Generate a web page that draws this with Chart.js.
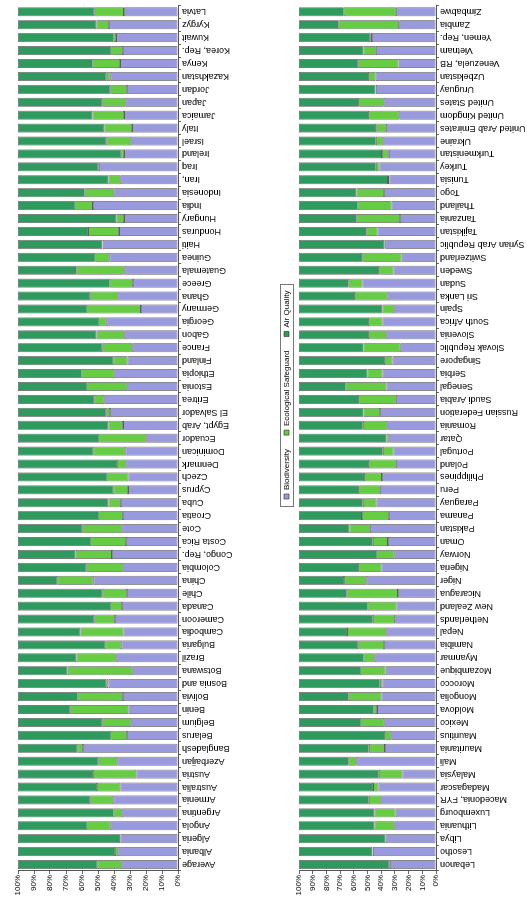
<!DOCTYPE html>
<html><head><meta charset="utf-8">
<script src="https://cdn.jsdelivr.net/npm/chart.js@4/dist/chart.umd.min.js"></script>
<style>
html,body{margin:0;padding:0;background:#fff;overflow:hidden;width:527px;height:898px;}
#rot{position:absolute;left:0;top:0;width:898px;height:527px;transform-origin:0 0;transform:translateY(898px) rotate(-90deg);}
#c1{position:absolute;left:0;top:0;}
#c2{position:absolute;left:0;top:270px;}
</style></head><body>
<div id="rot"><canvas id="c1" width="898" height="270"></canvas><canvas id="c2" width="898" height="257"></canvas></div>
<script>
const seriesNames = ['Biodiversity', 'Ecological Safeguard', 'Air Quality'];
const seriesColors = ['#9999dd', '#66cc44', '#2e9a5e'];
const tickLabels = ['0%','10%','20%','30%','40%','50%','60%','70%','80%','90%','100%'];

const countriesA = ['Average','Albania','Algeria','Angola','Argentina','Armenia','Australia','Austria','Azerbaijan','Bangladesh','Belarus','Belgium','Benin','Bolivia','Bosnia and','Botswana','Brazil','Bulgaria','Cambodia','Cameroon','Canada','Chile','China','Colombia','Congo, Rep.','Costa Rica','Cote','Croatia','Cuba','Cyprus','Czech','Denmark','Dominican','Ecuador','Egypt, Arab','El Salvador','Eritrea','Estonia','Ethiopia','Finland','France','Gabon','Georgia','Germany','Ghana','Greece','Guatemala','Guinea','Haiti','Honduras','Hungary','India','Indonesia','Iran,','Iraq','Ireland','Israel','Italy','Jamaica','Japan','Jordan','Kazakhstan','Kenya','Korea, Rep.','Kuwait','Kyrgyz','Latvia'];
const airA = [49.6,60.6,63.8,43.3,59.8,45.2,49.4,46.9,50.2,37.1,58.3,52.7,32.7,37.3,55.2,31.0,36.5,54.6,39.0,47.7,58.3,52.9,24.6,42.7,36.0,45.8,40.2,50.8,56.5,59.6,55.8,61.9,47.1,50.8,56.5,55.2,47.9,43.3,39.8,59.6,52.7,49.0,50.8,43.3,45.2,57.3,36.7,48.3,52.7,43.8,61.5,35.8,41.7,56.5,50.4,64.6,55.4,54.0,46.5,52.7,57.7,55.2,46.7,58.3,59.8,49.0,47.7];
const ecoA = [15.2,1.7,0.2,14.6,5.0,14.4,14.6,27.1,11.9,3.5,9.8,18.1,36.3,28.3,1.3,40.4,25.2,10.0,26.9,12.9,6.7,15.2,22.5,23.1,22.7,21.7,24.6,14.8,7.9,9.2,13.3,5.4,20.0,29.4,9.2,2.3,6.0,25.0,20.4,8.8,19.0,17.7,4.6,33.5,17.1,14.6,30.0,8.8,0.2,19.4,4.8,11.0,18.1,7.7,0.2,1.7,15.4,17.3,19.8,14.6,10.4,2.7,17.1,7.3,1.5,7.9,18.5];
const bioA = [35.2,37.7,36.0,42.1,35.2,40.4,36.0,26.0,37.9,59.4,31.9,29.2,31.0,34.4,43.5,28.6,38.3,35.4,34.1,39.4,35.0,31.9,52.9,34.2,41.3,32.5,35.2,34.4,35.6,31.2,30.9,32.7,32.9,19.8,34.3,42.5,46.1,31.7,39.8,31.6,28.3,33.3,44.6,23.2,37.7,28.1,33.3,42.9,47.1,36.8,33.7,53.2,40.2,35.8,49.4,33.7,29.2,28.7,33.7,32.7,31.9,42.1,36.2,34.4,38.7,43.1,33.8];

const countriesB = ['Lebanon','Lesotho','Libya','Lithuania','Luxembourg','Macedonia, FYR','Madagascar','Malaysia','Mali','Mauritania','Mauritius','Mexico','Moldova','Mongolia','Morocco','Mozambique','Myanmar','Namibia','Nepal','Netherlands','New Zealand','Nicaragua','Niger','Nigeria','Norway','Oman','Pakistan','Panama','Paraguay','Peru','Philippines','Poland','Portugal','Qatar','Romania','Russian Federation','Saudi Arabia','Senegal','Serbia','Singapore','Slovak Republic','Slovenia','South Africa','Spain','Sri Lanka','Sudan','Sweden','Switzerland','Syrian Arab Republic','Tajikistan','Tanzania','Thailand','Togo','Tunisia','Turkey','Turkmenistan','Ukraine','United Arab Emirates','United Kingdom','United States','Uruguay','Uzbekistan','Venezuela, RB','Vietnam','Yemen, Rep.','Zambia','Zimbabwe'];
const airB = [65.9,53.7,63.2,55.1,55.1,51.0,54.1,58.3,36.3,51.0,62.9,45.4,54.6,36.3,59.0,45.4,47.3,43.2,35.1,53.9,50.2,34.9,32.9,43.9,57.1,53.9,36.8,45.9,46.6,43.9,48.3,51.2,61.2,63.9,46.6,47.1,43.9,34.1,50.0,62.9,47.1,51.2,51.2,61.0,41.0,36.3,58.5,46.1,62.4,49.5,42.2,42.9,42.0,64.9,56.1,60.5,56.1,56.3,51.2,43.9,55.9,51.2,43.2,47.1,52.0,29.0,32.7];
const ecoB = [0.5,0.2,0.0,14.4,15.4,9.0,3.9,17.3,5.9,11.7,4.4,16.8,2.4,23.9,2.0,17.8,8.0,18.8,29.0,16.3,21.0,37.3,16.6,16.3,12.7,11.0,14.9,19.8,10.0,15.1,12.2,19.5,7.8,2.0,17.8,12.0,26.8,29.8,11.0,5.4,27.1,12.9,9.8,8.5,23.7,10.0,10.5,28.8,0.5,7.8,31.5,24.6,20.0,1.2,2.7,5.1,5.4,7.1,22.0,18.0,0.2,4.6,29.5,9.0,1.2,44.1,38.0];
const bioB = [33.6,46.1,36.8,30.5,29.5,40.0,42.0,24.4,57.8,37.3,32.7,37.8,43.0,39.8,39.0,36.8,44.7,38.0,35.9,29.8,28.8,27.8,50.5,39.8,30.2,35.1,48.3,34.3,43.4,41.0,39.5,29.3,31.0,34.1,35.6,40.9,29.3,36.1,39.0,31.7,25.8,35.9,39.0,30.5,35.3,53.7,31.0,25.1,37.1,42.7,26.3,32.5,38.0,33.9,41.2,34.4,38.5,36.6,26.8,38.1,43.9,44.2,27.3,43.9,46.8,26.9,29.3];

Chart.defaults.font.family = "'Liberation Sans', Arial, sans-serif";
Chart.defaults.color = '#000';
Chart.defaults.animation = false;

function makeDatasets(bio, eco, air) {
  return [bio, eco, air].map((d, i) => ({
    label: seriesNames[i],
    data: d,
    backgroundColor: seriesColors[i],
    borderColor: 'rgba(40,40,40,0.75)',
    borderWidth: 0.8,
    borderSkipped: false,
    categoryPercentage: 1,
    barPercentage: 0.7
  }));
}

function makeOptions(xHeight, padTop, showLegend) {
  return {
    responsive: false,
    animation: false,
    layout: { padding: { top: padTop, right: 1, left: 0, bottom: 0 } },
    plugins: {
      legend: {
        display: showLegend,
        position: 'top',
        maxHeight: 20,
        labels: { boxWidth: 5, boxHeight: 5, padding: 14, font: { size: 8 }, color: '#000' }
      },
      tooltip: { enabled: false }
    },
    scales: {
      x: {
        stacked: true,
        grid: { display: true, drawOnChartArea: false, drawTicks: true, tickLength: 3, color: '#666' },
        border: { display: true, color: '#555' },
        ticks: { autoSkip: false, minRotation: 90, maxRotation: 90, padding: 1, font: { size: 9 }, color: '#000' },
        afterFit: s => { s.height = xHeight; }
      },
      y: {
        stacked: true,
        min: 0, max: 100,
        grid: { display: true, drawOnChartArea: false, drawTicks: true, tickLength: 3, color: '#666' },
        border: { display: true, color: '#555' },
        ticks: { stepSize: 10, padding: 1, font: { size: 8 }, color: '#000', callback: (v, i) => tickLabels[i] },
        afterFit: s => { s.width = 27; }
      }
    }
  };
}

new Chart(document.getElementById('c1'), {
  type: 'bar',
  data: { labels: countriesA, datasets: makeDatasets(bioA, ecoA, airA) },
  options: makeOptions(92, 18, false)
});

const legendBox = {
  id: 'legendBox',
  afterLayout(chart) {
    const lg = chart.legend;
    const pad = lg.options.labels.padding;
    const start = ((lg.left + pad) + (lg.right - lg.lineWidths[0])) / 2;
    const shift = 399 - start;
    lg.left += shift; lg.right += shift;
    lg.top = 16.5 - 4 - pad; lg.bottom = lg.top + 40;
  },
  afterDraw(chart) {
    const hb = chart.legend.legendHitBoxes;
    if (!hb || !hb.length) return;
    const l = hb[0].left - 8;
    const r = hb[hb.length - 1].left + hb[hb.length - 1].width + 6;
    const ctx = chart.ctx;
    ctx.save();
    ctx.strokeStyle = '#777';
    ctx.lineWidth = 1;
    ctx.strokeRect(Math.round(l) + 0.5, 10.5, Math.round(r - l), 13);
    ctx.restore();
  }
};

new Chart(document.getElementById('c2'), {
  type: 'bar',
  data: { labels: countriesB, datasets: makeDatasets(bioB, ecoB, airB) },
  options: makeOptions(91, 9, true),
  plugins: [legendBox]
});
</script>
</body></html>
